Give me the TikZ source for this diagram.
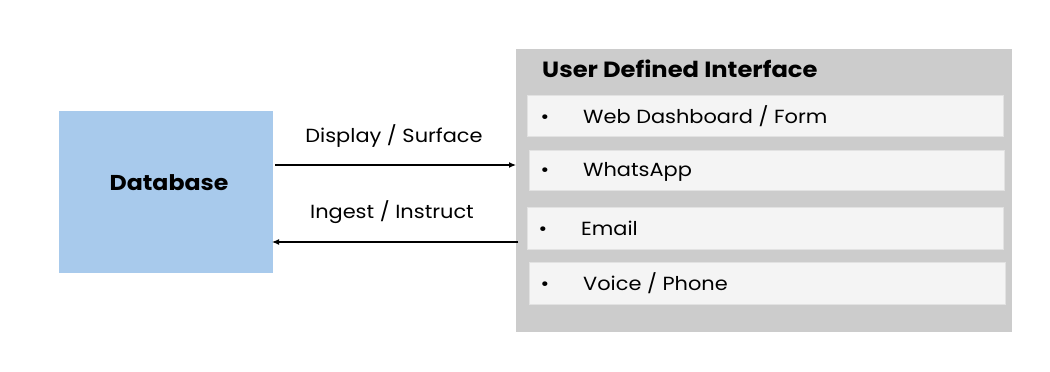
\documentclass[tikz,border=0pt]{standalone}
\usepackage{fontspec}
\setmainfont{Poppins}[FakeStretch=1.1]
\usetikzlibrary{arrows.meta}
\definecolor{dbblue}{HTML}{A8CAEC}
\definecolor{panelgray}{HTML}{CCCCCC}
\definecolor{rowfill}{HTML}{F4F4F4}
\definecolor{rowline}{HTML}{E2E2E2}
\begin{document}
\begin{tikzpicture}[x=1pt,y=-1pt,
  rowbox/.style={fill=rowfill,draw=rowline,line width=0.6pt},
  rowtext/.style={anchor=base west,inner sep=0pt,font=\fontsize{19}{22}\selectfont},
  bullet/.style={anchor=base,inner sep=0pt,font=\fontsize{19}{22}\selectfont},
  flow/.style={-{Latex[length=7pt,width=6pt]},line width=1.2pt,black},
  lbl/.style={anchor=base,inner sep=0pt,font=\fontsize{19}{22}\selectfont}]
\useasboundingbox (0,0) rectangle (1050,372);
% database
\node[fill=dbblue,minimum width=214pt,minimum height=162pt,inner sep=0pt,anchor=north west] (db) at (59,111) {};
\node[anchor=base,inner sep=0pt,font=\bfseries\fontsize{21.5}{24}\selectfont] (dblabel) at (169,190) {Database};
% panel
\node[fill=panelgray,minimum width=496pt,minimum height=283pt,inner sep=0pt,anchor=north west] (panel) at (516,49) {};
\node[anchor=base west,inner sep=0pt,font=\bfseries\fontsize{22}{25}\selectfont] (title) at (542,77) {User Defined Interface};
% rows
\node[rowbox,anchor=north west,minimum width=476pt,minimum height=41pt,inner sep=0pt] (r1) at (527,95) {};
\node[rowbox,anchor=north west,minimum width=475pt,minimum height=40pt,inner sep=0pt] (r2) at (529,150) {};
\node[rowbox,anchor=north west,minimum width=476pt,minimum height=42pt,inner sep=0pt] (r3) at (527,207) {};
\node[rowbox,anchor=north west,minimum width=476pt,minimum height=42pt,inner sep=0pt] (r4) at (529,262) {};
\node[bullet] (b1) at (545,123) {•};
\node[rowtext] (t1) at (583,123) {Web Dashboard / Form};
\node[bullet] (b2) at (545,176.5) {•};
\node[rowtext] (t2) at (583,176.5) {WhatsApp};
\node[bullet] (b3) at (543,235) {•};
\node[rowtext] (t3) at (581,235) {Email};
\node[bullet] (b4) at (545,290) {•};
\node[rowtext] (t4) at (583,290) {Voice / Phone};
% arrows
\coordinate (a1s) at (275,165);
\coordinate (a1e) at (516,165);
\coordinate (a2s) at (518,242);
\coordinate (a2e) at (272,242);
\draw[flow] (a1s) -- (a1e);
\draw[flow] (a2s) -- (a2e);
\node[lbl] (l1) at (394,142.5) {Display / Surface};
\node[lbl] (l2) at (392,218) {Ingest / Instruct};
\end{tikzpicture}
\end{document}
